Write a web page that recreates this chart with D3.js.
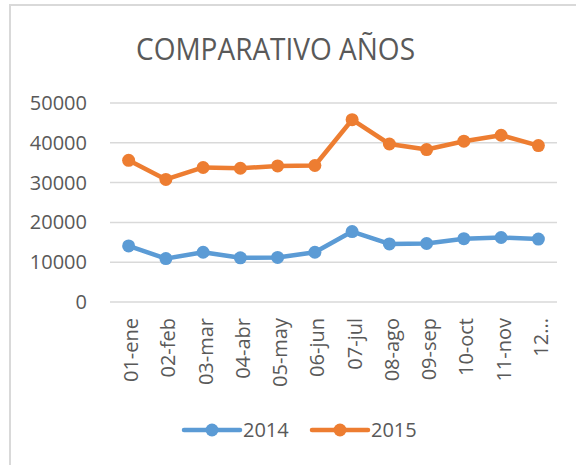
<!DOCTYPE html>
<html><head><meta charset="utf-8">
<script src="https://cdn.jsdelivr.net/npm/d3@7"></script>
<style>html,body{margin:0;padding:0;background:#fff;}svg{display:block;}</style>
</head><body>
<svg id="c" width="576" height="465"></svg>
<script>
const categories = ["01-ene","02-feb","03-mar","04-abr","05-may","06-jun","07-jul","08-ago","09-sep","10-oct","11-nov","12-dic"];
const tickLabels = ["01-ene","02-feb","03-mar","04-abr","05-may","06-jun","07-jul","08-ago","09-sep","10-oct","11-nov","12..."];
const values2014 = [14100,10900,12500,11100,11200,12500,17700,14600,14700,15900,16200,15800];
const values2015 = [35600,30800,33800,33600,34200,34300,45800,39700,38300,40400,41900,39300];
const yTicks = [0,10000,20000,30000,40000,50000];
const seriesNames = ["2014","2015"];
const colors = ["#5B9BD5","#ED7D31"];

const svg = d3.select("#c");
const font = "'Open Sans', sans-serif";
const textCol = "#595959";

// outer border
svg.append("path").attr("d","M10,465 L10,5 L576,5").attr("fill","none").attr("stroke","#d9d9d9").attr("stroke-width",2);

svg.append("text").attr("x",136).attr("y",60).attr("text-anchor","start")
  .attr("textLength",279).attr("lengthAdjust","spacingAndGlyphs")
  .attr("font-family",font).attr("font-size",31).attr("fill",textCol).text("COMPARATIVO AÑOS");

const x = d3.scaleBand().domain(categories).range([110,557]);
const y = d3.scaleLinear().domain([0,50000]).range([302,103]);

// gridlines
svg.append("g").selectAll("line").data(yTicks).join("line")
  .attr("x1",110).attr("x2",557).attr("y1",d=>y(d)).attr("y2",d=>y(d))
  .attr("stroke","#d9d9d9").attr("stroke-width",1.5);

// y labels
svg.append("g").selectAll("text").data(yTicks).join("text")
  .attr("x",87).attr("y",d=>y(d)).attr("dy","0.35em").attr("text-anchor","end")
  .attr("font-family",font).attr("font-size",20).attr("fill",textCol).text(d=>d);

// x labels
svg.append("g").selectAll("text").data(categories).join("text")
  .attr("transform",d=>`translate(${x(d)+x.bandwidth()/2+9.5},318) rotate(-90)`)
  .attr("text-anchor","end")
  .attr("font-family",font).attr("font-size",20).attr("fill",textCol)
  .text((d,i)=>tickLabels[i]);

const series = [values2014, values2015];
const line = d3.line().x((d,i)=>x(categories[i])+x.bandwidth()/2).y(d=>y(d));
series.forEach((vals,s)=>{
  const g = svg.append("g");
  g.append("path").datum(vals).attr("d",line).attr("fill","none")
    .attr("stroke",colors[s]).attr("stroke-width",4.5).attr("stroke-linejoin","round");
  g.selectAll("circle").data(vals).join("circle")
    .attr("cx",(d,i)=>x(categories[i])+x.bandwidth()/2).attr("cy",d=>y(d)).attr("r",6.5)
    .attr("fill",colors[s]);
});

// legend
const legX = [184,312];
seriesNames.forEach((n,s)=>{
  const g = svg.append("g");
  g.append("line").attr("x1",legX[s]).attr("x2",legX[s]+56).attr("y1",430).attr("y2",430)
    .attr("stroke",colors[s]).attr("stroke-width",4.5).attr("stroke-linecap","round");
  g.append("circle").attr("cx",legX[s]+28).attr("cy",430).attr("r",6.5).attr("fill",colors[s]);
  g.append("text").attr("x",legX[s]+59).attr("y",430).attr("dy","0.35em")
    .attr("font-family",font).attr("font-size",20).attr("fill",textCol).text(n);
});
</script>
</body></html>
